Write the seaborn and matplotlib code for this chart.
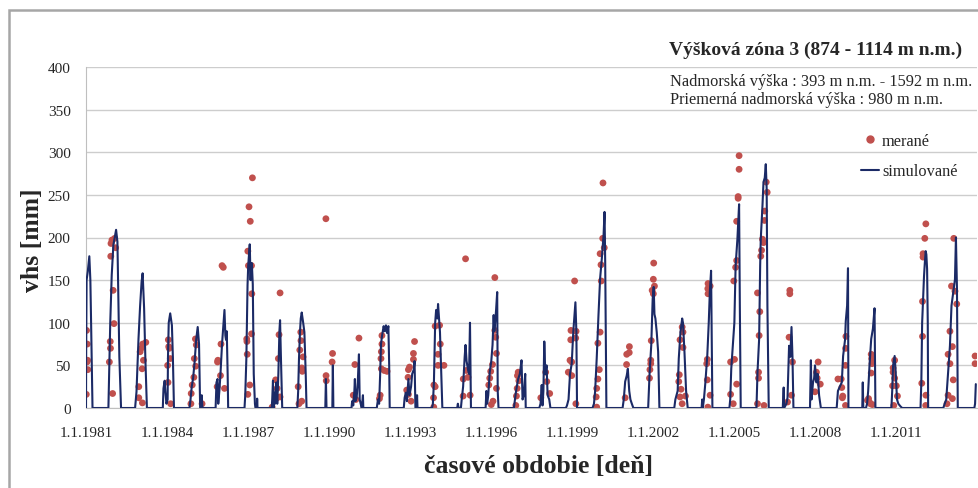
import numpy as np
import pandas as pd
import seaborn as sns
import matplotlib.pyplot as plt
from matplotlib.patches import Rectangle
from matplotlib.lines import Line2D

# simulated snow water equivalent, vertices (one winter per line)
sim_points = [
    ("1981-01-01", 0), ("1981-01-03", 60), ("1981-01-09", 150), ("1981-01-25", 160), ("1981-02-15", 178), ("1981-03-01", 150), ("1981-03-10", 105), ("1981-03-25", 20), ("1981-03-30", 0),
    ("1981-10-31", 0), ("1981-11-10", 40), ("1981-11-25", 100), ("1981-12-15", 156), ("1982-01-06", 191), ("1982-02-12", 209), ("1982-03-02", 195), ("1982-03-28", 60), ("1982-04-20", 0),
    ("1982-10-27", 0), ("1982-11-15", 19), ("1982-12-12", 81), ("1983-01-03", 120), ("1983-01-23", 148), ("1983-02-06", 158), ("1983-02-26", 117), ("1983-03-15", 58), ("1983-04-05", 0),
    ("1983-11-06", 0), ("1983-11-15", 23), ("1983-12-01", 32), ("1983-12-10", 20), ("1983-12-25", 5), ("1984-01-10", 10), ("1984-01-15", 60), ("1984-01-25", 100), ("1984-02-14", 111), ("1984-03-08", 97), ("1984-03-21", 60), ("1984-04-05", 0),
    ("1984-11-01", 0), ("1984-11-15", 10), ("1984-12-01", 25), ("1984-12-20", 35), ("1985-01-10", 55), ("1985-01-30", 80), ("1985-02-20", 95), ("1985-03-10", 75), ("1985-03-25", 0), ("1985-04-10", 0), ("1985-04-15", 15), ("1985-04-25", 0),
    ("1985-10-20", 0), ("1985-11-01", 30), ("1985-11-15", 34), ("1985-11-25", 5), ("1985-12-10", 20), ("1985-12-25", 40), ("1986-01-15", 75), ("1986-02-05", 100), ("1986-02-17", 115), ("1986-03-01", 85), ("1986-03-10", 80), ("1986-03-20", 90), ("1986-04-01", 40), ("1986-04-08", 0),
    ("1986-11-15", 0), ("1986-11-25", 15), ("1986-12-10", 58), ("1986-12-26", 144), ("1987-01-04", 167), ("1987-01-25", 192), ("1987-02-05", 150), ("1987-02-10", 165), ("1987-02-22", 170), ("1987-03-07", 145), ("1987-03-20", 40), ("1987-04-05", 5), ("1987-04-12", 0), ("1987-05-01", 0), ("1987-05-05", 11), ("1987-05-10", 0),
    ("1987-11-18", 0), ("1987-11-25", 10), ("1987-12-05", 32), ("1987-12-12", 0), ("1987-12-20", 18), ("1988-01-01", 5), ("1988-01-10", 20), ("1988-01-19", 30), ("1988-02-01", 5), ("1988-02-16", 40), ("1988-03-01", 90), ("1988-03-10", 103), ("1988-03-22", 58), ("1988-04-08", 0),
    ("1988-10-30", 0), ("1988-11-10", 20), ("1988-11-21", 58), ("1988-12-05", 90), ("1988-12-15", 105), ("1988-12-28", 112), ("1989-01-15", 101), ("1989-02-02", 89), ("1989-02-20", 40), ("1989-03-03", 0),
    ("1989-11-12", 0), ("1989-11-20", 34), ("1989-11-28", 0), ("1990-02-15", 0), ("1990-02-22", 50), ("1990-03-01", 0),
    ("1990-11-01", 0), ("1990-11-10", 8), ("1990-11-25", 3), ("1990-12-10", 20), ("1990-12-17", 34), ("1990-12-25", 8), ("1991-01-10", 12), ("1991-01-25", 30), ("1991-02-10", 63), ("1991-02-20", 10), ("1991-03-05", 5), ("1991-03-20", 0), ("1991-04-05", 15), ("1991-04-10", 0),
    ("1991-10-09", 0), ("1991-10-25", 10), ("1991-11-10", 5), ("1991-11-24", 40), ("1991-12-05", 75), ("1991-12-20", 85), ("1992-01-10", 96), ("1992-01-25", 90), ("1992-02-10", 97), ("1992-02-25", 88), ("1992-03-14", 96), ("1992-03-25", 50), ("1992-04-01", 0),
    ("1992-10-08", 0), ("1992-10-20", 12), ("1992-11-05", 18), ("1992-11-20", 8), ("1992-12-10", 34), ("1992-12-25", 15), ("1993-01-15", 25), ("1993-01-30", 40), ("1993-02-20", 45), ("1993-03-03", 55), ("1993-03-15", 0), ("1993-04-01", 0), ("1993-04-06", 15), ("1993-04-12", 0),
    ("1993-10-25", 0), ("1993-11-06", 5), ("1993-11-20", 30), ("1993-12-07", 100), ("1993-12-20", 115), ("1994-01-05", 105), ("1994-01-15", 122), ("1994-01-25", 110), ("1994-02-10", 89), ("1994-02-28", 40), ("1994-03-14", 0),
    ("1994-10-01", 0), ("1994-10-10", 5), ("1994-10-20", 0), ("1994-11-20", 0), ("1994-12-01", 10), ("1994-12-20", 25), ("1995-01-10", 60), ("1995-01-22", 74), ("1995-02-05", 55), ("1995-02-24", 45), ("1995-03-10", 40), ("1995-03-23", 100), ("1995-04-05", 0),
    ("1995-10-20", 0), ("1995-10-31", 20), ("1995-11-10", 5), ("1995-11-25", 15), ("1995-12-15", 42), ("1996-01-05", 55), ("1996-01-22", 74), ("1996-02-06", 109), ("1996-02-15", 90), ("1996-02-26", 100), ("1996-03-10", 115), ("1996-03-25", 136), ("1996-04-01", 20), ("1996-04-12", 0),
    ("1996-11-06", 0), ("1996-11-20", 10), ("1996-12-02", 18), ("1996-12-15", 25), ("1997-01-03", 34), ("1997-01-25", 40), ("1997-02-17", 56), ("1997-03-03", 10), ("1997-03-20", 15), ("1997-04-08", 40), ("1997-04-15", 0),
    ("1997-10-15", 0), ("1997-11-01", 5), ("1997-11-17", 27), ("1997-11-28", 3), ("1997-12-10", 20), ("1997-12-22", 78), ("1998-01-05", 40), ("1998-01-22", 50), ("1998-02-05", 15), ("1998-02-27", 10), ("1998-03-15", 0),
    ("1998-10-10", 0), ("1998-10-25", 3), ("1998-11-15", 10), ("1998-12-05", 40), ("1998-12-28", 52), ("1999-01-18", 89), ("1999-02-05", 110), ("1999-02-16", 124), ("1999-03-01", 89), ("1999-03-10", 0),
    ("1999-10-05", 0), ("1999-10-25", 5), ("1999-11-10", 20), ("1999-12-01", 58), ("1999-12-25", 109), ("2000-01-16", 152), ("2000-02-08", 175), ("2000-03-03", 203), ("2000-03-16", 230), ("2000-03-25", 170), ("2000-04-10", 0),
    ("2000-11-15", 0), ("2000-12-01", 10), ("2000-12-20", 31), ("2001-01-10", 38), ("2001-01-25", 46), ("2001-02-13", 20), ("2001-03-01", 10), ("2001-03-20", 5), ("2001-04-10", 0),
    ("2001-10-27", 0), ("2001-11-16", 42), ("2001-12-08", 74), ("2001-12-27", 128), ("2002-01-10", 142), ("2002-01-20", 110), ("2002-02-02", 105), ("2002-02-20", 89), ("2002-03-11", 66), ("2002-03-28", 0),
    ("2002-10-15", 0), ("2002-10-30", 10), ("2002-11-15", 15), ("2002-11-30", 20), ("2002-12-15", 58), ("2003-01-07", 89), ("2003-01-30", 105), ("2003-02-10", 100), ("2003-03-02", 66), ("2003-03-24", 20), ("2003-04-15", 0),
    ("2003-10-20", 0), ("2003-10-28", 10), ("2003-11-05", 0), ("2003-11-20", 10), ("2003-12-10", 30), ("2004-01-05", 62), ("2004-01-25", 101), ("2004-02-08", 136), ("2004-02-25", 161), ("2004-03-05", 80), ("2004-03-14", 0),
    ("2004-10-30", 0), ("2004-11-10", 10), ("2004-11-24", 46), ("2004-12-21", 81), ("2005-01-05", 100), ("2005-01-22", 167), ("2005-02-15", 198), ("2005-03-10", 239), ("2005-03-20", 120), ("2005-04-01", 0),
    ("2005-10-31", 0), ("2005-11-14", 42), ("2005-12-06", 81), ("2005-12-20", 167), ("2005-12-28", 198), ("2006-01-20", 237), ("2006-02-03", 265), ("2006-02-20", 270), ("2006-03-06", 286), ("2006-03-18", 257), ("2006-03-28", 120), ("2006-04-15", 0),
    ("2006-10-22", 0), ("2006-11-03", 24), ("2006-11-10", 0), ("2006-12-10", 5), ("2006-12-25", 12), ("2007-01-15", 73), ("2007-02-01", 60), ("2007-02-17", 95), ("2007-03-02", 60), ("2007-03-15", 0),
    ("2007-10-25", 0), ("2007-11-06", 56), ("2007-11-15", 10), ("2007-12-05", 30), ("2007-12-20", 35), ("2008-01-01", 50), ("2008-01-20", 30), ("2008-02-06", 40), ("2008-02-25", 15), ("2008-03-20", 0),
    ("2008-10-20", 0), ("2008-11-06", 20), ("2008-12-01", 25), ("2008-12-28", 30), ("2009-01-15", 61), ("2009-02-10", 80), ("2009-02-20", 102), ("2009-03-10", 120), ("2009-03-22", 164), ("2009-03-28", 0),
    ("2009-10-01", 0), ("2009-10-08", 30), ("2009-10-15", 0), ("2009-11-20", 0), ("2009-12-05", 5), ("2009-12-20", 20), ("2010-01-07", 50), ("2010-01-30", 81), ("2010-02-22", 93), ("2010-03-16", 117), ("2010-03-28", 0),
    ("2010-10-30", 0), ("2010-11-10", 20), ("2010-11-22", 50), ("2010-12-13", 61), ("2010-12-27", 42), ("2011-01-14", 10), ("2011-02-01", 5), ("2011-03-01", 2), ("2011-03-25", 0),
    ("2011-11-28", 0), ("2011-12-09", 30), ("2011-12-20", 100), ("2012-01-05", 136), ("2012-01-14", 154), ("2012-01-25", 170), ("2012-02-06", 184), ("2012-02-15", 180), ("2012-02-25", 163), ("2012-03-05", 100), ("2012-03-10", 0),
    ("2012-10-01", 0), ("2012-10-20", 5), ("2012-11-10", 10), ("2012-12-05", 42), ("2012-12-30", 73), ("2013-01-20", 120), ("2013-02-13", 136), ("2013-03-08", 151), ("2013-03-21", 200), ("2013-04-04", 140), ("2013-04-15", 0),
    ("2013-11-25", 0), ("2013-12-05", 5), ("2013-12-15", 28),
]

# measured values (red dots)
meas_points = [
    ("1981-01-05", 16), ("1981-01-08", 91), ("1981-01-12", 55), ("1981-01-14", 54), ("1981-01-18", 75), ("1981-01-22", 56), ("1981-01-25", 45),
    ("1981-11-13", 54), ("1981-11-25", 78), ("1981-11-28", 70), ("1981-12-02", 178), ("1981-12-05", 193), ("1981-12-18", 197), ("1981-12-27", 17), ("1982-01-03", 138), ("1982-01-15", 99), ("1982-01-24", 199), ("1982-02-06", 188),
    ("1982-12-16", 25), ("1982-12-16", 12), ("1983-01-03", 66), ("1983-01-17", 70), ("1983-01-30", 46), ("1983-02-03", 6), ("1983-02-06", 75), ("1983-02-17", 56), ("1983-03-21", 77),
    ("1984-01-10", 50), ("1984-01-15", 30), ("1984-01-20", 80), ("1984-01-25", 72), ("1984-02-01", 70), ("1984-02-15", 58), ("1984-02-20", 5),
    ("1984-11-20", 5), ("1984-11-24", 17), ("1984-12-08", 27), ("1984-12-30", 36), ("1985-01-05", 58), ("1985-01-20", 81), ("1985-01-23", 49), ("1985-02-01", 74), ("1985-04-20", 5),
    ("1985-11-10", 25), ("1985-11-15", 54), ("1985-11-20", 56), ("1985-12-25", 38), ("1986-01-01", 75), ("1986-01-15", 167), ("1986-02-01", 165), ("1986-02-17", 23),
    ("1986-12-15", 81), ("1986-12-18", 78), ("1986-12-22", 63), ("1986-12-30", 184), ("1986-12-30", 16), ("1987-01-07", 167), ("1987-01-15", 236), ("1987-01-25", 27), ("1987-02-01", 219), ("1987-02-18", 167), ("1987-02-18", 87), ("1987-02-22", 134), ("1987-03-02", 270),
    ("1987-11-24", 1), ("1988-01-10", 33), ("1988-01-19", 11), ("1988-01-30", 23), ("1988-02-16", 58), ("1988-02-25", 86), ("1988-03-10", 135), ("1988-03-10", 13),
    ("1988-11-10", 25), ("1988-11-21", 5), ("1988-12-02", 68), ("1988-12-15", 89), ("1988-12-18", 79), ("1988-12-28", 47), ("1988-12-28", 8), ("1989-01-05", 43), ("1989-01-15", 60),
    ("1989-11-20", 222), ("1989-11-22", 38), ("1989-11-25", 32), ("1990-02-12", 54), ("1990-02-18", 64),
    ("1990-11-25", 15), ("1990-12-17", 51), ("1990-12-30", 10), ("1991-02-10", 82),
    ("1991-11-14", 11), ("1991-11-24", 15), ("1991-12-05", 58), ("1991-12-10", 66), ("1991-12-10", 46), ("1991-12-18", 75), ("1991-12-18", 85), ("1992-01-18", 44), ("1992-02-25", 43),
    ("1992-11-17", 21), ("1992-12-05", 36), ("1992-12-10", 45), ("1992-12-10", 16), ("1992-12-25", 48), ("1993-01-15", 8), ("1993-02-16", 64), ("1993-02-16", 57), ("1993-03-03", 78),
    ("1993-11-15", 12), ("1993-11-18", 1), ("1993-11-20", 27), ("1993-12-07", 96), ("1993-12-07", 25), ("1994-01-15", 63), ("1994-01-15", 50), ("1994-02-05", 97), ("1994-02-14", 75), ("1994-04-05", 50),
    ("1994-12-20", 14), ("1994-12-22", 34), ("1995-01-22", 175), ("1995-02-01", 44), ("1995-02-24", 36), ("1995-03-25", 15),
    ("1995-12-02", 27), ("1995-12-15", 35), ("1995-12-28", 43), ("1996-01-05", 4), ("1996-01-22", 51), ("1996-01-28", 8), ("1996-02-22", 153), ("1996-02-22", 91), ("1996-03-05", 83), ("1996-03-15", 64), ("1996-03-15", 23),
    ("1996-12-02", 3), ("1996-12-10", 14), ("1996-12-20", 23), ("1996-12-24", 38), ("1997-01-03", 42), ("1997-01-12", 32),
    ("1997-11-05", 12), ("1998-01-10", 42), ("1998-01-25", 31), ("1998-03-05", 17),
    ("1998-11-12", 42), ("1998-12-05", 56), ("1998-12-15", 80), ("1998-12-18", 91), ("1998-12-28", 38), ("1998-12-28", 54), ("1999-02-05", 149), ("1999-02-20", 82), ("1999-02-22", 5), ("1999-02-25", 90),
    ("1999-11-24", 13), ("1999-12-01", 23), ("1999-12-01", 1), ("1999-12-17", 76), ("1999-12-17", 34), ("2000-01-05", 45), ("2000-01-16", 89), ("2000-01-16", 181), ("2000-01-28", 168), ("2000-02-01", 149), ("2000-02-20", 199), ("2000-02-24", 264), ("2000-03-12", 188),
    ("2000-12-20", 12), ("2001-01-08", 51), ("2001-01-10", 63), ("2001-02-13", 65), ("2001-02-15", 72),
    ("2001-11-14", 35), ("2001-11-20", 45), ("2001-12-01", 56), ("2001-12-01", 52), ("2001-12-08", 79), ("2001-12-20", 138), ("2002-01-05", 134), ("2002-01-05", 151), ("2002-01-10", 170), ("2002-01-20", 143),
    ("2002-12-15", 31), ("2002-12-22", 39), ("2003-01-01", 80), ("2003-01-01", 13), ("2003-01-15", 22), ("2003-01-30", 95), ("2003-01-30", 5), ("2003-02-10", 89), ("2003-02-10", 71), ("2003-03-15", 14),
    ("2003-12-28", 52), ("2004-01-05", 57), ("2004-01-05", 33), ("2004-01-12", 140), ("2004-01-12", 1), ("2004-01-15", 146), ("2004-01-15", 134), ("2004-02-12", 143), ("2004-02-12", 15),
    ("2004-11-15", 54), ("2004-11-15", 16), ("2004-12-21", 5), ("2004-12-28", 149), ("2005-01-07", 57), ("2005-01-22", 165), ("2005-02-05", 173), ("2005-02-05", 219), ("2005-02-05", 28), ("2005-02-25", 248), ("2005-02-25", 246), ("2005-03-10", 296), ("2005-03-10", 280),
    ("2005-11-14", 135), ("2005-11-14", 5), ("2005-11-28", 42), ("2005-11-28", 35), ("2005-12-06", 85), ("2005-12-15", 113), ("2005-12-28", 178), ("2006-01-08", 185), ("2006-01-20", 198), ("2006-02-03", 194), ("2006-02-10", 3), ("2006-02-17", 220), ("2006-02-20", 231), ("2006-03-12", 265), ("2006-03-25", 253),
    ("2006-12-25", 7), ("2007-01-15", 83), ("2007-01-25", 138), ("2007-01-25", 134), ("2007-02-17", 15), ("2007-03-02", 54),
    ("2008-01-01", 19), ("2008-01-20", 42), ("2008-01-30", 35), ("2008-02-12", 54), ("2008-03-12", 28),
    ("2008-11-06", 34), ("2008-12-20", 34), ("2008-12-28", 24), ("2009-01-05", 12), ("2009-01-10", 14), ("2009-02-16", 3), ("2009-02-16", 50), ("2009-02-18", 70), ("2009-02-22", 84),
    ("2009-12-10", 9), ("2009-12-25", 11), ("2010-01-05", 7), ("2010-01-20", 5), ("2010-01-30", 63), ("2010-01-30", 41), ("2010-02-05", 58), ("2010-02-10", 52), ("2010-02-15", 4),
    ("2010-11-15", 26), ("2010-11-22", 47), ("2010-11-22", 42), ("2010-12-01", 3), ("2010-12-13", 56), ("2010-12-13", 35), ("2011-01-05", 26), ("2011-01-20", 14),
    ("2011-12-15", 29), ("2011-12-25", 125), ("2011-12-25", 84), ("2012-01-01", 181), ("2012-01-01", 177), ("2012-01-25", 199), ("2012-02-06", 3), ("2012-02-08", 216), ("2012-02-08", 15),
    ("2012-11-20", 5), ("2012-12-05", 63), ("2012-12-05", 15), ("2012-12-30", 90), ("2012-12-30", 52), ("2013-01-20", 143), ("2013-02-01", 72), ("2013-02-01", 11), ("2013-02-13", 33), ("2013-02-20", 199), ("2013-03-08", 137), ("2013-04-01", 122),
    ("2013-12-05", 61), ("2013-12-05", 52),
]

tick_years = list(range(1981, 2012, 3))
y_ticks = list(range(0, 401, 50))

title = "Výšková zóna 3 (874 - 1114 m n.m.)"
info_lines = ["Nadmorská výška : 393 m n.m. - 1592 m n.m.",
              "Priemerná nadmorská výška : 980 m n.m."]


def main():
    sim = pd.DataFrame(sim_points, columns=["date", "vhs"])
    sim["date"] = pd.to_datetime(sim["date"])
    meas = pd.DataFrame(meas_points, columns=["date", "vhs"])
    meas["date"] = pd.to_datetime(meas["date"])

    sns.set_style("white")
    plt.rcParams["font.family"] = ["Liberation Serif", "DejaVu Serif"]

    W, H = 979, 489
    fig = plt.figure(figsize=(W / 100, H / 100), dpi=100)
    ax = fig.add_axes([86 / W, 80 / H, 891 / W, 341 / H])

    red = "#C0504D"
    navy = "#1B2A66"

    sns.scatterplot(data=meas, x="date", y="vhs", ax=ax, color=red, s=24,
                    edgecolor="none", zorder=2, legend=False)
    sns.lineplot(data=sim, x="date", y="vhs", ax=ax, color=navy, linewidth=1.5,
                 estimator=None, sort=False, zorder=3, legend=False)

    ax.set_xlim(pd.Timestamp("1981-01-01"), pd.Timestamp("2013-12-31"))
    ax.set_ylim(0, 400)
    ax.set_yticks(y_ticks)
    ax.set_yticklabels([str(v) for v in y_ticks], fontsize=11)
    ticks = [pd.Timestamp(f"{y}-01-01") for y in tick_years]
    ax.set_xticks(ticks)
    ax.set_xticklabels([f"1.1.{y}" for y in tick_years], fontsize=11)
    ax.tick_params(axis="both", length=0)
    ax.tick_params(axis="y", pad=11)
    ax.tick_params(axis="x", pad=13)

    ax.grid(axis="y", color="#CDCDCD", linewidth=1)
    ax.set_axisbelow(True)
    for side in ["top", "right"]:
        ax.spines[side].set_visible(False)
    ax.spines["left"].set_color("#BFBFBF")
    ax.spines["bottom"].set_color("#BFBFBF")

    ax.set_xlabel("")
    ax.set_ylabel("")
    fig.text(33 / W, 1 - 240 / H, "vhs [mm]", rotation=90, ha="center", va="center",
             fontsize=18.5, fontweight="bold")
    fig.text(539 / W, 1 - 467 / H, "časové obdobie [deň]", ha="center", va="center",
             fontsize=18.5, fontweight="bold")

    fig.text(962 / W, 1 - 50 / H, title, ha="right", va="center", fontsize=14, fontweight="bold")
    fig.text(670 / W, 1 - 82 / H, info_lines[0], ha="left", va="center", fontsize=11.8)
    fig.text(670 / W, 1 - 100 / H, info_lines[1], ha="left", va="center", fontsize=11.8)

    handles = [
        Line2D([], [], linestyle="none", marker="o", color=red, markersize=5),
        Line2D([], [], color=navy, linewidth=1.5),
    ]
    ax.legend(handles, ["merané", "simulované"], loc="upper right",
              bbox_to_anchor=(964 / W, 1 - 127 / H), bbox_transform=fig.transFigure,
              frameon=False, fontsize=11.8, handlelength=1.1, handletextpad=0.15,
              labelspacing=0.9, borderaxespad=0)

    # outer chart border (right edge is cut off in the original)
    fig.patches.append(Rectangle((9 / W, -0.05), 1.2, 1.05 - 11 / H, transform=fig.transFigure,
                                 fill=False, edgecolor="#A6A6A6", linewidth=1.8))

    fig.savefig("out.png", dpi=100)


if __name__ == "__main__":
    main()
